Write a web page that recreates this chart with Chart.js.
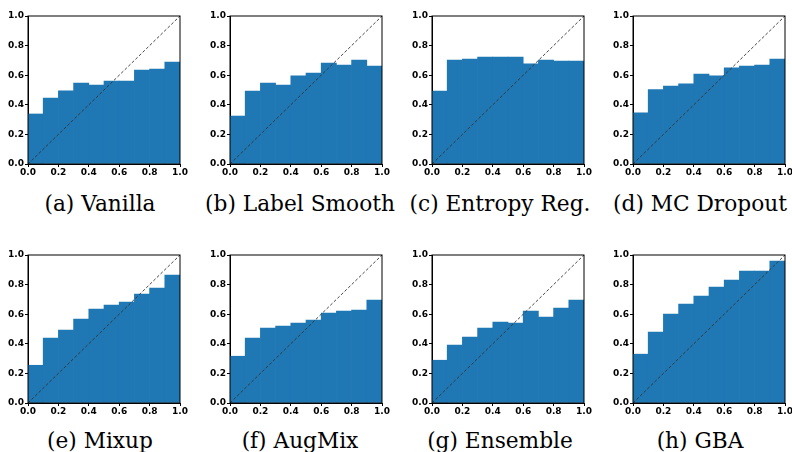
<!DOCTYPE html>
<html>
<head>
<meta charset="utf-8">
<script src="https://cdn.jsdelivr.net/npm/chart.js@4"></script>
<style>
  html, body { margin: 0; padding: 0; background: #fff; }
  #fig { position: relative; width: 792px; height: 452px; overflow: hidden; }
  canvas { position: absolute; }
  .cap { position: absolute; width: 200px; text-align: center; font-family: "DejaVu Serif", serif;
         font-size: 21.7px; line-height: 24px; color: #000; white-space: nowrap; }
</style>
</head>
<body>
<div id="fig"></div>
<script>
// reliability diagrams, 10 confidence bins
const binCenters = [0.05, 0.15, 0.25, 0.35, 0.45, 0.55, 0.65, 0.75, 0.85, 0.95];
const tickValues = [0, 0.2, 0.4, 0.6, 0.8, 1.0];

const vanilla      = [0.338, 0.446, 0.495, 0.547, 0.534, 0.561, 0.561, 0.635, 0.642, 0.689];
const labelSmooth  = [0.324, 0.493, 0.547, 0.534, 0.595, 0.615, 0.682, 0.669, 0.703, 0.662];
const entropyReg   = [0.493, 0.703, 0.709, 0.723, 0.723, 0.723, 0.676, 0.703, 0.696, 0.696];
const mcDropout    = [0.345, 0.502, 0.527, 0.541, 0.608, 0.595, 0.649, 0.662, 0.669, 0.709];
const mixup        = [0.255, 0.438, 0.492, 0.567, 0.634, 0.661, 0.682, 0.736, 0.777, 0.865];
const augMix       = [0.316, 0.438, 0.506, 0.519, 0.540, 0.560, 0.607, 0.621, 0.628, 0.695];
const ensemble     = [0.289, 0.391, 0.445, 0.506, 0.546, 0.540, 0.621, 0.580, 0.641, 0.695];
const gba          = [0.330, 0.479, 0.600, 0.668, 0.722, 0.783, 0.831, 0.892, 0.892, 0.959];

const captions = ['(a) Vanilla', '(b) Label Smooth', '(c) Entropy Reg.', '(d) MC Dropout',
                  '(e) Mixup', '(f) AugMix', '(g) Ensemble', '(h) GBA'];
const series = [vanilla, labelSmooth, entropyReg, mcDropout, mixup, augMix, ensemble, gba];

// plot-area placement in the page
const plotLeft = [28, 230, 432, 633];
const plotTop = [16, 255];
const capTop = [192, 429];

const tickFont = { family: 'DejaVu Sans', size: 9, weight: 'bold' };

// black box around the axes, drawn over the bars like matplotlib spines
const frame = {
  id: 'frame',
  afterDatasetsDraw(chart) {
    const a = chart.chartArea, ctx = chart.ctx;
    ctx.save();
    ctx.strokeStyle = '#000';
    ctx.lineWidth = 1;
    ctx.strokeRect(a.left, a.top, a.right - a.left, a.bottom - a.top);
    ctx.restore();
  }
};

const fig = document.getElementById('fig');

series.forEach((vals, i) => {
  const col = i % 4, row = Math.floor(i / 4);
  const cv = document.createElement('canvas');
  cv.width = 192; cv.height = 170;
  cv.style.left = (plotLeft[col] - 28) + 'px';
  cv.style.top = (plotTop[row] - 8) + 'px';
  fig.appendChild(cv);

  const cap = document.createElement('div');
  cap.className = 'cap';
  cap.style.left = (col * 200) + 'px';
  cap.style.top = capTop[row] + 'px';
  cap.textContent = captions[i];
  fig.appendChild(cap);

  new Chart(cv, {
    type: 'bar',
    data: {
      datasets: [
        {
          type: 'line',
          data: [{ x: 0, y: 0 }, { x: 1, y: 1 }],
          borderColor: '#333',
          borderWidth: 0.9,
          borderDash: [3, 2],
          pointRadius: 0,
          order: 0
        },
        {
          data: binCenters.map((x, k) => ({ x: x, y: vals[k] })),
          backgroundColor: '#1f77b4',
          borderWidth: 0,
          barPercentage: 1,
          categoryPercentage: 1,
          order: 1
        }
      ]
    },
    plugins: [frame],
    options: {
      responsive: false,
      animation: false,
      layout: { padding: { top: 8, right: 12, left: 0, bottom: 0 } },
      plugins: { legend: { display: false }, tooltip: { enabled: false } },
      scales: {
        x: {
          type: 'linear', min: 0, max: 1, offset: false,
          afterBuildTicks: s => { s.ticks = tickValues.map(v => ({ value: v })); },
          afterFit: s => { s.height = 14; },
          grid: { display: true, drawOnChartArea: false, tickLength: 3, tickColor: '#000', offset: false },
          border: { display: true, color: '#000' },
          ticks: { font: tickFont, color: '#000', padding: 0, maxRotation: 0, autoSkip: false,
                   callback: v => v.toFixed(1) }
        },
        y: {
          min: 0, max: 1,
          afterBuildTicks: s => { s.ticks = tickValues.map(v => ({ value: v })); },
          afterFit: s => { s.width = 28; },
          grid: { display: true, drawOnChartArea: false, tickLength: 3, tickColor: '#000' },
          border: { display: true, color: '#000' },
          ticks: { font: tickFont, color: '#000', padding: 1, autoSkip: false,
                   callback: v => v.toFixed(1) }
        }
      }
    }
  });
});
</script>
</body>
</html>
